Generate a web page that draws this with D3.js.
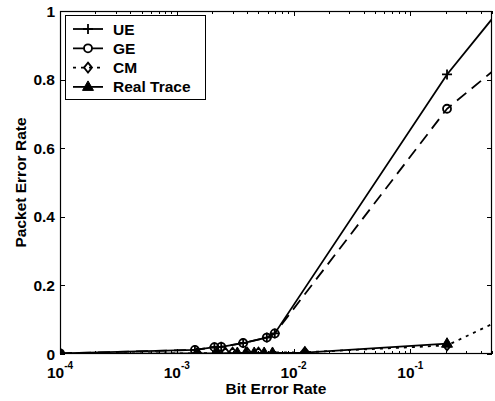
<!DOCTYPE html>
<html><head><meta charset="utf-8">
<script src="https://cdn.jsdelivr.net/npm/d3@7"></script>
<style>body{margin:0;background:#fff}</style>
</head><body>
<svg id="c" width="495" height="401"></svg>
<script>
const seriesNames = ["UE", "GE", "CM", "Real Trace"];
const ueX = [1e-4, 1.43e-3, 2.1e-3, 2.4e-3, 3.7e-3, 5.9e-3, 6.9e-3, 0.206, 0.6];
const ueY = [0.002, 0.012, 0.02, 0.021, 0.032, 0.048, 0.06, 0.815, 1.01];
const geX = [1e-4, 1.43e-3, 2.1e-3, 2.4e-3, 3.7e-3, 5.9e-3, 6.9e-3, 0.206, 0.6];
const geY = [0.002, 0.012, 0.02, 0.021, 0.032, 0.048, 0.06, 0.715, 0.845];
const cmX = [1e-4, 1.5e-3, 2.2e-3, 2.6e-3, 3.0e-3, 4.0e-3, 5.0e-3, 1.25e-2, 0.206, 0.6];
const cmY = [0.001, 0.002, 0.003, 0.004, 0.004, 0.004, 0.004, 0.005, 0.025, 0.1];
const rtX = [1e-4, 1.5e-3, 2.2e-3, 3.3e-3, 3.9e-3, 4.6e-3, 5.6e-3, 6.6e-3, 1.25e-2, 0.206];
const rtY = [0, 0.002, 0.002, 0.003, 0.003, 0.003, 0.003, 0.003, 0.004, 0.03];
const xTickExps = [-4, -3, -2, -1];
const yTicks = [0, 0.2, 0.4, 0.6, 0.8, 1];
const yTickLabels = ["0", "0.2", "0.4", "0.6", "0.8", "1"];
const xLabel = "Bit Error Rate";
const yLabel = "Packet Error Rate";

const L = 60, R = 492, T = 11, B = 354;
const svg = d3.select("#c");
const x = d3.scaleLog().domain([1e-4, 0.5]).range([L, R]);
const y = d3.scaleLinear().domain([0, 1]).range([B, T]);
const font = "'Liberation Sans', Arial, Helvetica, sans-serif";

svg.append("defs").append("clipPath").attr("id", "clip")
  .append("rect").attr("x", L).attr("y", T).attr("width", R - L).attr("height", B - T);

// ticks
const gT = svg.append("g").attr("stroke", "#000").attr("stroke-width", 1);
const minor = [];
for (let e = -4; e <= -1; e++) for (let m = 1; m <= 9; m++) { const v = m * Math.pow(10, e); if (v <= 0.5) minor.push(v); }
minor.forEach(v => {
  const len = (Math.abs(Math.log10(v) - Math.round(Math.log10(v))) < 1e-9) ? 5 : 3;
  const px = Math.round(x(v)) + 0.5;
  gT.append("line").attr("x1", px).attr("x2", px).attr("y1", B).attr("y2", B - len);
  gT.append("line").attr("x1", px).attr("x2", px).attr("y1", T).attr("y2", T + len);
});
yTicks.forEach(v => {
  const py = Math.round(y(v)) + 0.5;
  gT.append("line").attr("x1", L).attr("x2", L + 5).attr("y1", py).attr("y2", py);
  gT.append("line").attr("x1", R).attr("x2", R - 5).attr("y1", py).attr("y2", py);
});

// tick labels
yTicks.forEach((v, i) => {
  svg.append("text").attr("x", 55).attr("y", y(v)).attr("dy", "0.36em")
    .attr("text-anchor", "end").attr("font-family", font).attr("font-weight", "bold")
    .attr("font-size", 15.5).text(yTickLabels[i]);
});
xTickExps.forEach(e => {
  const t = svg.append("text").attr("x", x(Math.pow(10, e))).attr("y", 378)
    .attr("text-anchor", "middle").attr("font-family", font).attr("font-weight", "bold")
    .attr("font-size", 15.5);
  t.append("tspan").text("10");
  t.append("tspan").attr("dy", -9).attr("font-size", 10).text(String(e));
});

// axis labels
svg.append("text").attr("x", (L + R) / 2).attr("y", 394).attr("text-anchor", "middle")
  .attr("font-family", font).attr("font-weight", "bold").attr("font-size", 15.5).text(xLabel);
svg.append("text").attr("transform", `translate(26,${(T + B) / 2}) rotate(-90)`).attr("text-anchor", "middle")
  .attr("font-family", font).attr("font-weight", "bold").attr("font-size", 15.5).text(yLabel);

// data
const series = [
  {name: seriesNames[0], xs: ueX, ys: ueY, dash: null, marker: "plus"},
  {name: seriesNames[1], xs: geX, ys: geY, dash: "12,7", marker: "circle"},
  {name: seriesNames[2], xs: cmX, ys: cmY, dash: "3,5", marker: "diamond"},
  {name: seriesNames[3], xs: rtX, ys: rtY, dash: null, marker: "triangle"}
];
const line = d3.line().x(d => x(d[0])).y(d => y(d[1]));
const gD = svg.append("g").attr("clip-path", "url(#clip)");

function drawMarker(g, type, cx, cy) {
  if (type === "plus") {
    g.append("path").attr("d", `M${cx - 5},${cy}H${cx + 5}M${cx},${cy - 5}V${cy + 5}`)
      .attr("stroke", "#000").attr("stroke-width", 1.8).attr("fill", "none");
  } else if (type === "circle") {
    g.append("circle").attr("cx", cx).attr("cy", cy).attr("r", 4)
      .attr("stroke", "#000").attr("stroke-width", 1.8).attr("fill", "none");
  } else if (type === "diamond") {
    g.append("path").attr("d", `M${cx},${cy - 5}L${cx + 4},${cy}L${cx},${cy + 5}L${cx - 4},${cy}Z`)
      .attr("stroke", "#000").attr("stroke-width", 1.8).attr("fill", "none");
  } else {
    g.append("path").attr("d", `M${cx},${cy - 6}L${cx + 5.5},${cy + 3.5}L${cx - 5.5},${cy + 3.5}Z`)
      .attr("stroke", "#000").attr("stroke-width", 1).attr("fill", "#000");
  }
}

series.slice().reverse().forEach(s => {
  const pts = s.xs.map((v, i) => [v, s.ys[i]]);
  gD.append("path").attr("d", line(pts)).attr("fill", "none").attr("stroke", "#000")
    .attr("stroke-width", 1.8).attr("stroke-dasharray", s.dash);
  pts.forEach(p => drawMarker(gD, s.marker, x(p[0]), y(p[1])));
});

// frame
svg.append("rect").attr("x", L + 0.5).attr("y", T + 0.5).attr("width", R - L - 1).attr("height", B - T - 1)
  .attr("fill", "none").attr("stroke", "#000").attr("stroke-width", 1.2);

// legend
const lg = svg.append("g");
lg.append("rect").attr("x", 65.5).attr("y", 15.5).attr("width", 140).attr("height", 84)
  .attr("fill", "#fff").attr("stroke", "#000").attr("stroke-width", 1);
series.forEach((s, i) => {
  const ly = 29 + i * 19.3;
  lg.append("line").attr("x1", 73).attr("x2", 103).attr("y1", ly).attr("y2", ly)
    .attr("stroke", "#000").attr("stroke-width", 1.8).attr("stroke-dasharray", s.dash);
  drawMarker(lg, s.marker, 88, ly);
  lg.append("text").attr("x", 113).attr("y", ly).attr("dy", "0.36em")
    .attr("font-family", font).attr("font-weight", "bold").attr("font-size", 15.5).text(s.name);
});
</script>
</body></html>
